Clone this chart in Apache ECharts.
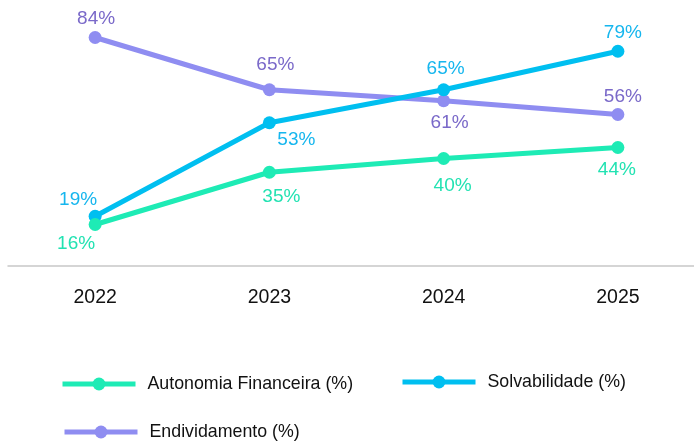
<!DOCTYPE html>
<html>
<head>
<meta charset="utf-8">
<script src="https://cdn.jsdelivr.net/npm/echarts@6/dist/echarts.min.js"></script>
<style>
html,body{margin:0;padding:0;background:#fff;}
#chart{width:694px;height:445px;}
</style>
</head>
<body>
<div id="chart"></div>
<script>
const categories = ['2022', '2023', '2024', '2025'];
const autonomia = [16, 35, 40, 44];
const solvabilidade = [19, 53, 65, 79];
const endividamento = [84, 65, 61, 56];

// label offsets relative to each point (style only)
const autoLabelOffsets = [[-19, 19], [12, 25], [9, 27], [-1, 22]];
const solvLabelOffsets = [[-17, -16], [27, 17], [2, -21], [5, -18]];
const endLabelOffsets = [[1, -19], [6, -25], [6, 22], [5, -18]];

const FONT = '"Liberation Sans", Arial, sans-serif';

function makeData(values, offsets, color) {
  return values.map((v, i) => ({
    value: v,
    label: {
      show: true,
      position: 'inside',
      offset: offsets[i],
      formatter: '{c}%',
      color: color,
      fontSize: 19,
      fontFamily: FONT
    }
  }));
}

function lineSeries(name, values, offsets, lineColor, labelColor, z) {
  return {
    name: name,
    type: 'line',
    z: z,
    data: makeData(values, offsets, labelColor),
    symbol: 'circle',
    symbolSize: 13,
    showSymbol: true,
    lineStyle: { width: 5, color: lineColor },
    itemStyle: { color: lineColor },
    emphasis: { disabled: true },
    animation: false
  };
}

const chart = echarts.init(document.getElementById('chart'), null, { renderer: 'canvas' });

const legendCommon = {
  itemWidth: 73,
  itemHeight: 16,
  padding: 0,
  lineStyle: { width: 5 },
  textStyle: { fontSize: 17.8, color: '#111', fontFamily: FONT, padding: [0, 0, 0, 7] },
  selectedMode: false
};

chart.setOption({
  backgroundColor: '#fff',
  grid: { left: 8, right: -11, top: 21, bottom: 179, containLabel: false, outerBoundsMode: 'none' },
  xAxis: {
    type: 'category',
    data: categories,
    boundaryGap: true,
    axisLine: { show: true, onZero: false, lineStyle: { color: '#c8c8c8', width: 1.5 } },
    axisTick: { show: false },
    axisLabel: { color: '#111', fontSize: 19.5, fontFamily: FONT, margin: 22 },
    splitLine: { show: false }
  },
  yAxis: {
    type: 'value',
    min: 0.91,
    max: 90,
    show: false,
    splitLine: { show: false }
  },
  legend: [
    Object.assign({}, legendCommon, { data: ['Autonomia Financeira (%)'], left: 60, top: 375 }),
    Object.assign({}, legendCommon, { data: ['Solvabilidade (%)'], left: 400, top: 373 }),
    Object.assign({}, legendCommon, { data: ['Endividamento (%)'], left: 62, top: 423 })
  ],
  series: [
    lineSeries('Endividamento (%)', endividamento, endLabelOffsets, '#8F8DF1', '#7A69C9', 2),
    lineSeries('Solvabilidade (%)', solvabilidade, solvLabelOffsets, '#00BFF0', '#16B6EE', 3),
    lineSeries('Autonomia Financeira (%)', autonomia, autoLabelOffsets, '#1EEBB5', '#22E2B2', 4)
  ]
});
</script>
</body>
</html>
